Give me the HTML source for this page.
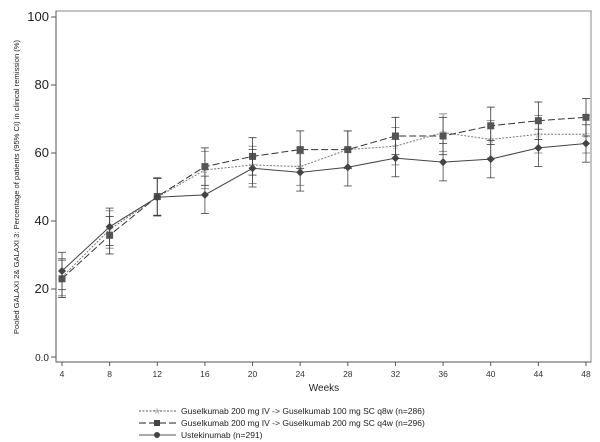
<!DOCTYPE html>
<html><head><style>body{margin:0;background:#fff}svg{display:block;font-family:"Liberation Sans",sans-serif}</style></head><body>
<svg width="600" height="442" viewBox="0 0 600 442" xmlns="http://www.w3.org/2000/svg" id="s">
<rect x="56" y="11" width="535" height="351" fill="none" stroke="#888" stroke-width="1"/>
<line x1="56" y1="11" x2="56" y2="362" stroke="#555"/>
<line x1="56" y1="362" x2="591" y2="362" stroke="#555"/>
<g id="yt" font-size="13" fill="#222" text-anchor="end"></g>
<g id="xt" font-size="8.5" fill="#333" text-anchor="middle"></g>
<text x="324" y="391" font-size="10" text-anchor="middle" fill="#222">Weeks</text>
<text transform="translate(19,187) rotate(-90)" font-size="7.6" text-anchor="middle" fill="#222">Pooled GALAXI 2&amp; GALAXI 3: Percentage of patients (95% CI) in clinical remission (%)</text>
<g id="d"></g>
<g font-size="8.5" fill="#222">
<line x1="139" y1="411" x2="176" y2="411" stroke="#555" stroke-dasharray="2,1.5"/><text x="157" y="414" font-size="9" text-anchor="middle" fill="#777">☆</text>
<text x="181" y="414">Guselkumab 200 mg IV -&gt; Guselkumab 100 mg SC q8w (n=286)</text>
<line x1="139" y1="423" x2="176" y2="423" stroke="#222" stroke-dasharray="7,3"/><rect x="154" y="420" width="6" height="6" fill="#444"/>
<text x="181" y="426">Guselkumab 200 mg IV -&gt; Guselkumab 200 mg SC q4w (n=296)</text>
<line x1="139" y1="435" x2="176" y2="435" stroke="#aaa" stroke-width="2"/><circle cx="157" cy="435" r="3" fill="#444"/>
<text x="181" y="438">Ustekinumab (n=291)</text>
</g>
</svg>
<script>
const NS="http://www.w3.org/2000/svg";
const X=w=>62+(w-4)*524/44, Y=v=>357-v*3.4;
function el(p,t,a){const e=document.createElementNS(NS,t);for(const k in a)e.setAttribute(k,a[k]);p.appendChild(e);if(a.txt)e.textContent=a.txt;return e;}
const yt=document.getElementById('yt'),xt=document.getElementById('xt'),d=document.getElementById('d');
[0,20,40,60,80,100].forEach(v=>{el(yt,'line',{x1:51,x2:56,y1:Y(v),y2:Y(v),stroke:'#555'});const t=el(yt,'text',{x:49,y:Y(v)+4,txt:v?String(v):'0.0'});if(!v)t.setAttribute('font-size','10');});
const W=[4,8,12,16,20,24,28,32,36,40,44,48];
W.forEach(w=>{el(xt,'line',{x1:X(w),x2:X(w),y1:362,y2:366,stroke:'#555'});el(xt,'text',{x:X(w),y:377,txt:String(w)});});
const S=[
 {v:[23.5,37.5,47,55,56.5,56,61,62,66,64,65.5,65.5],c:'#777',dash:'2,1.5',m:'s'},
 {v:[23,35.8,47.2,56,59,61,61,65,65,68,69.5,70.5],c:'#333',dash:'7,3',m:'q'},
 {v:[25.3,38.3,47,47.7,55.5,54.3,55.8,58.5,57.3,58.2,61.5,62.8],c:'#444',dash:'',m:'d'}];
S.forEach(s=>{
 el(d,'polyline',{points:s.v.map((v,i)=>X(W[i])+','+Y(v)).join(' '),fill:'none',stroke:s.c,'stroke-width':1,'stroke-dasharray':s.dash});
 s.v.forEach((v,i)=>{const x=X(W[i]),h=5.5;
  el(d,'line',{x1:x,x2:x,y1:Y(v-h),y2:Y(v+h),stroke:s.c,'stroke-width':0.8});
  [v-h,v+h].forEach(u=>el(d,'line',{x1:x-4,x2:x+4,y1:Y(u),y2:Y(u),stroke:s.c,'stroke-width':0.8}));
  const y=Y(v);
  if(s.m=='q')el(d,'rect',{x:x-3.5,y:y-3.5,width:7,height:7,fill:'#555'});
  else if(s.m=='d')el(d,'path',{d:`M${x} ${y-4}L${x+4} ${y}L${x} ${y+4}L${x-4} ${y}Z`,fill:'#444'});
  else el(d,'text',{x:x,y:y+3.5,'font-size':10,'text-anchor':'middle',fill:'#888',txt:'☆'});
 });
});
</script>
</body></html>
